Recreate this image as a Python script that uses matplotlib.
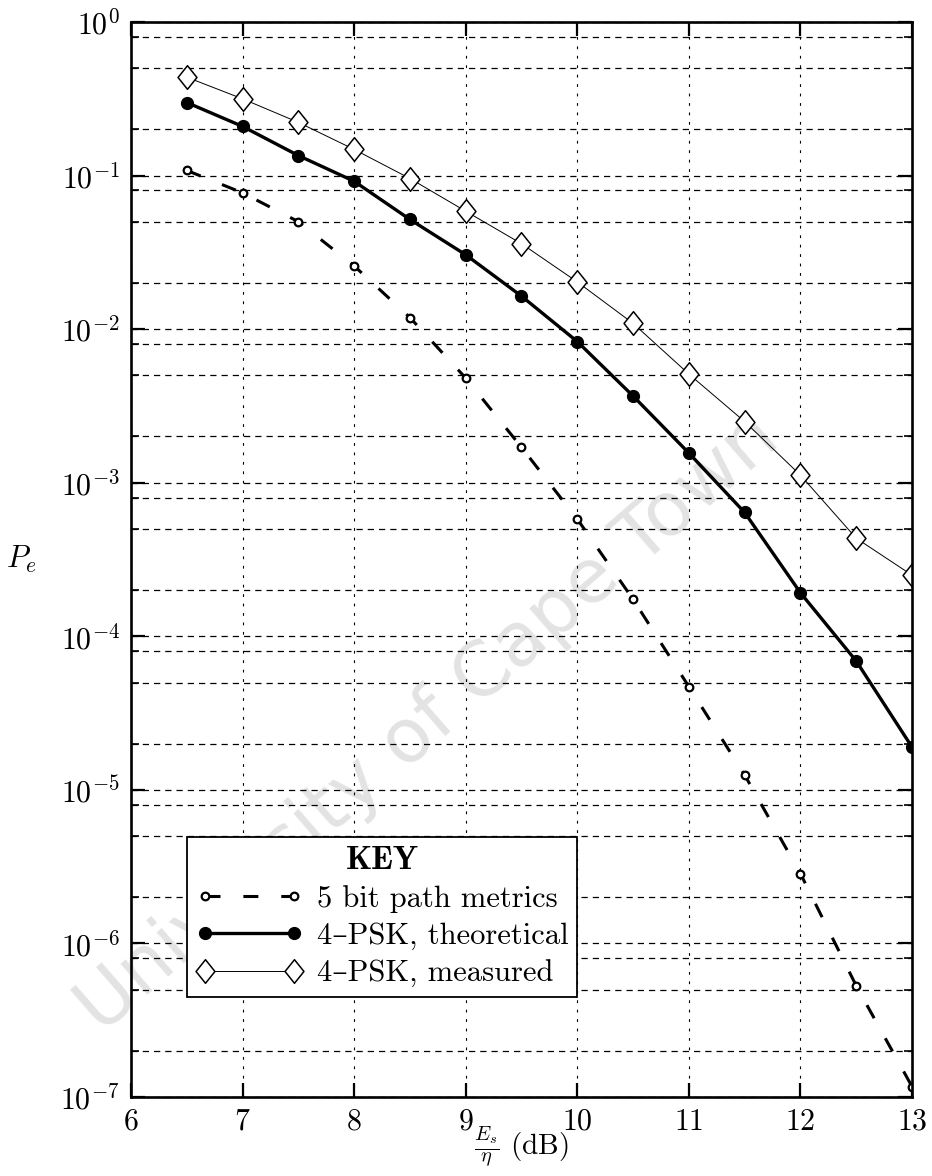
import matplotlib
matplotlib.use('Agg')
import matplotlib.pyplot as plt
from matplotlib.path import Path
from matplotlib.ticker import LogLocator, NullFormatter, FixedLocator
from matplotlib.font_manager import FontProperties

plt.rcParams['font.family'] = ['cmr10', 'DejaVu Serif']
plt.rcParams['mathtext.fontset'] = 'cm'
plt.rcParams['axes.formatter.use_mathtext'] = True
plt.rcParams['axes.unicode_minus'] = False

# SNR in dB
snr = [6.5, 7.0, 7.5, 8.0, 8.5, 9.0, 9.5, 10.0, 10.5, 11.0, 11.5, 12.0, 12.5, 13.0]

# error probabilities
pe_5bit = [0.108, 0.0772, 0.0501, 0.0258, 0.0119, 0.0048, 0.0017, 5.8e-4,
           1.74e-4, 4.7e-5, 1.25e-5, 2.85e-6, 5.3e-7, 1.17e-7]
pe_theory = [0.299, 0.209, 0.135, 0.0918, 0.0518, 0.0305, 0.0164, 0.0083,
             0.00367, 0.00156, 6.4e-4, 1.92e-4, 6.9e-5, 1.9e-5]
pe_measured = [0.437, 0.316, 0.222, 0.148, 0.0957, 0.0586, 0.036, 0.0203,
               0.0109, 0.0051, 0.0025, 0.00112, 4.35e-4, 2.5e-4]

labels = ['5 bit path metrics', '4\u2013PSK, theoretical', '4\u2013PSK, measured']

# diamond a bit fatter than matplotlib's 'd'
diamond = Path([(0, 1), (0.8, 0), (0, -1), (-0.8, 0), (0, 1)],
               [Path.MOVETO, Path.LINETO, Path.LINETO, Path.LINETO, Path.CLOSEPOLY])

fig = plt.figure(figsize=(9.32, 11.76), dpi=100)
ax = fig.add_axes([131 / 932, 1 - 1097 / 1176, 781 / 932, 1075 / 1176])
ax.set_facecolor('none')

ax.plot(snr, pe_5bit, color='black', lw=2.2, dashes=(4.9, 7.5),
        marker='o', ms=5.5, mfc='white', mec='black', mew=1.6, label=labels[0])
ax.plot(snr, pe_theory, color='black', lw=2.4, marker='o', ms=8.5,
        mfc='black', mec='black', label=labels[1])
ax.plot(snr, pe_measured, color='black', lw=0.7, marker=diamond, ms=17,
        mfc='white', mec='black', mew=1.1, label=labels[2])

ax.set_yscale('log')
ax.set_xlim(6, 13)
ax.set_ylim(1e-7, 1)
ax.xaxis.set_major_locator(FixedLocator(range(6, 14)))
ax.yaxis.set_major_locator(LogLocator(base=10, numticks=20))
ax.yaxis.set_minor_locator(LogLocator(base=10, subs=(0.2, 0.5, 0.8), numticks=20))
ax.yaxis.set_minor_formatter(NullFormatter())

ax.tick_params(which='both', direction='in', top=True, right=True,
               labelsize=21.5, pad=8)
ax.tick_params(which='major', length=10, width=1.6)
ax.tick_params(which='minor', length=6, width=1.2)
for s in ax.spines.values():
    s.set_linewidth(1.9)

# dashed grid
ax.grid(True, which='both', axis='y', color='black', lw=0.9, dashes=(5, 4))
ax.grid(True, which='major', axis='x', color='black', lw=0.8, dashes=(2.5, 6))

ax.set_ylabel('$P_e$', fontsize=22, rotation=0, labelpad=28, va='center')
ax.set_xlabel(r'$\frac{E_s}{\eta}$ (dB)', fontsize=21, labelpad=-8)

leg = ax.legend(loc='upper left', bbox_to_anchor=(0.0713, 0.242),
                borderaxespad=0, numpoints=2, handlelength=3.5,
                fontsize=22, title='KEY', fancybox=False, framealpha=1,
                edgecolor='black', borderpad=0.3, labelspacing=0.32,
                handletextpad=0.45,
                title_fontproperties=FontProperties(family='cmb10', size=24))
leg.get_frame().set_linewidth(1.3)

fig.text(0.46, 0.385, 'University of Cape Town', fontsize=54,
         family='DejaVu Sans', color='#e3e3e3', rotation=41,
         ha='center', va='center', zorder=-1)

fig.savefig('out.png', dpi=100)
